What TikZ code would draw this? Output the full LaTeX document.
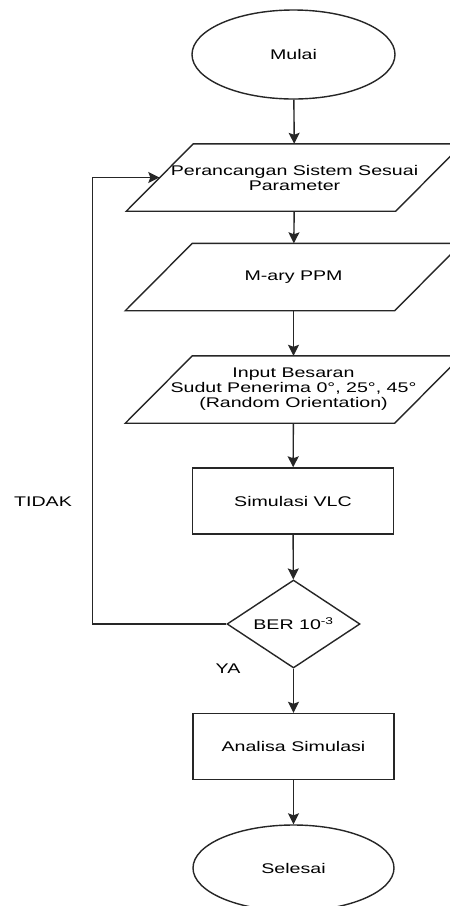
\documentclass[tikz,border=0pt]{standalone}
\usepackage{fontspec}
\setmainfont[FakeStretch=1.4]{Liberation Sans}
\usetikzlibrary{shapes.geometric,arrows.meta}
\begin{document}
\begin{tikzpicture}[x=1pt,y=-1pt,
  every node/.style={font=\fontsize{14}{15}\selectfont, align=center},
  line/.style={line width=1.4pt, draw=black!85},
  arr/.style={line, -{Stealth[length=11pt,width=11pt,inset=2pt]}},
  term/.style={ellipse, line, inner sep=0pt, minimum width=203pt, minimum height=89pt},
  proc/.style={rectangle, line, inner sep=0pt, minimum width=201pt, minimum height=66pt},
  parabody/.style={rectangle, inner sep=0pt, minimum width=269pt, minimum height=67pt},
  dec/.style={diamond, line, inner sep=0pt, aspect=1.5, minimum width=133pt, minimum height=88pt},
  lab/.style={inner sep=0pt}
]
\clip (0,0) rectangle (450,906);
\fill[white] (0,0) rectangle (450,906);

\node[term] (mulai) at (293.5,54.5) {Mulai};
\node[parabody] (p1) at (294.5,177.5) {Perancangan Sistem Sesuai\\Parameter};
\node[parabody] (p2) at (293.5,277) {M-ary PPM};
\node[parabody] (p3) at (293.5,389.5) {Input Besaran\\Sudut Penerima 0°, 25°, 45°\\(Random Orientation)};
\node[proc] (vlc) at (293,501) {Simulasi VLC};
\node[dec] (ber) at (293.5,624) {BER 10\textsuperscript{-3}};
\node[proc] (ana) at (293.5,746.5) {Analisa Simulasi};
\node[term, minimum width=201pt, minimum height=86pt] (sel) at (293.5,868) {Selesai};

\foreach \p in {p1,p2,p3}{
  \draw[line] ([xshift=-33.5pt]\p.south west) -- ([xshift=33.5pt]\p.north west)
    -- ([xshift=33.5pt]\p.north east) -- ([xshift=-33.5pt]\p.south east) -- cycle;
}

\node[lab] (tidak) at (43,502) {TIDAK};
\node[lab] (ya) at (228,669) {YA};

\draw[arr] (mulai) -- (p1);
\draw[arr] (p1) -- (p2);
\draw[arr] (p2) -- (p3);
\draw[arr] (p3) -- (vlc);
\draw[arr] (vlc) -- (ber);
\draw[arr] (ber) -- (ana);
\draw[arr] (ana) -- (sel);
\draw[arr] (ber.west) -- ++(-134,0) |- ([xshift=-0.5pt]p1.west);
\end{tikzpicture}
\end{document}
